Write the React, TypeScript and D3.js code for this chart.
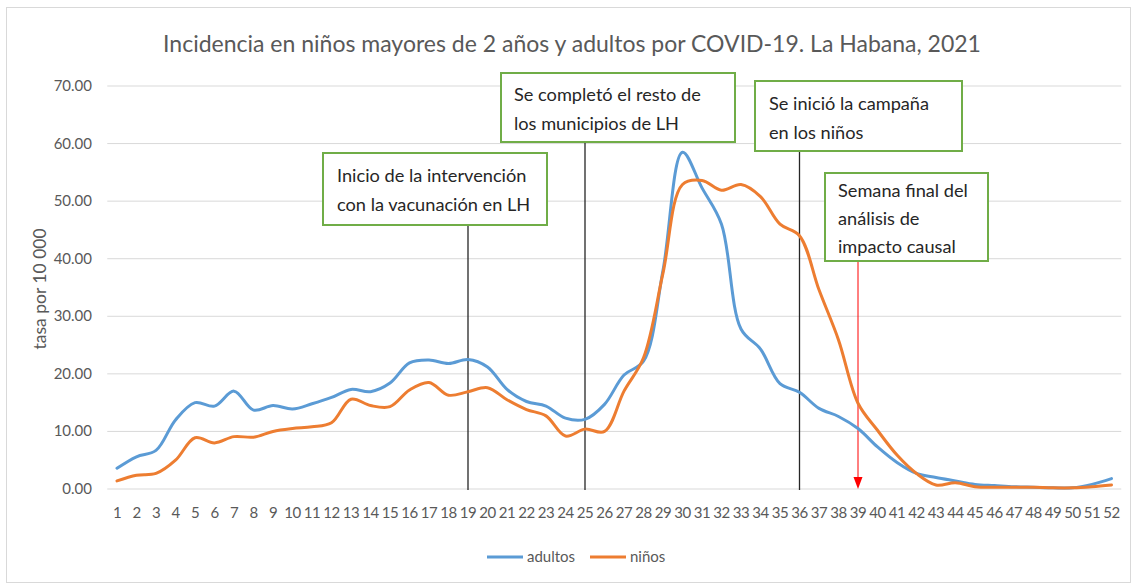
import React from "react";
import * as d3 from "d3";

const weeks = [1,2,3,4,5,6,7,8,9,10,11,12,13,14,15,16,17,18,19,20,21,22,23,24,25,26,27,28,29,30,31,32,33,34,35,36,37,38,39,40,41,42,43,44,45,46,47,48,49,50,51,52];
const adultos = [3.6,5.6,6.7,12.0,15.0,14.4,17.0,13.7,14.5,13.9,14.8,15.9,17.3,16.9,18.4,21.9,22.4,21.8,22.5,21.2,17.3,15.2,14.4,12.3,12.1,14.7,19.8,22.2,38.0,58.5,52.3,46.0,27.8,24.3,18.3,16.8,14.0,12.6,10.5,7.3,4.6,2.7,2.0,1.4,0.8,0.6,0.4,0.3,0.2,0.2,0.8,1.8];
const ninos = [1.4,2.4,2.7,5.0,8.9,8.0,9.1,9.0,10.0,10.5,10.8,11.5,15.6,14.5,14.3,17.2,18.5,16.3,16.9,17.6,15.5,13.8,12.7,9.2,10.4,10.0,17.0,22.8,37.5,52.9,53.6,51.9,52.9,50.8,46.0,44.0,34.6,25.9,14.9,10.2,5.9,2.7,0.7,1.1,0.4,0.3,0.3,0.3,0.2,0.2,0.4,0.7];
const yTicks = [0,10,20,30,40,50,60,70];
const seriesNames = ["adultos","niños"];
const seriesColors = ["#5B9BD5","#ED7D31"];
const markerWeeks = [19,25,36];
const finalWeek = 39;
const noteTexts = [
  ["Inicio de la intervención","con la vacunación en LH"],
  ["Se completó el resto de","los municipios de LH"],
  ["Se inició la campaña","en los niños"],
  ["Semana final del","análisis de","impacto causal"],
];
const title = "Incidencia en niños mayores de 2 años y adultos por COVID-19. La Habana, 2021";
const yLabel = "tasa por 10 000";

const W = 1137, H = 585;
const FONT = "Lato, 'Open Sans', sans-serif";

export default function App() {
  const x = d3.scaleBand<number>().domain(weeks).range([107.25, 1121.25]).padding(0);
  const cx = (w: number) => (x(w) as number) + x.bandwidth() / 2;
  const y = d3.scaleLinear().domain([0, 70]).range([489, 86]);
  const line = d3.line<number>()
    .x((_, i) => cx(weeks[i]))
    .y((d) => y(d))
    .curve(d3.curveCatmullRom.alpha(0.5));
  const series = [adultos, ninos];

  const boxes = [
    { x: 323, y: 153, w: 224, h: 72, tx: 337, ty: 182, lh: 29 },
    { x: 501, y: 73, w: 234, h: 69, tx: 514, ty: 101, lh: 29 },
    { x: 755, y: 81, w: 207, h: 70, tx: 769, ty: 110, lh: 29 },
    { x: 825, y: 173, w: 163, h: 88, tx: 838, ty: 197, lh: 28 },
  ];
  const fx = cx(finalWeek);
  const arrowTop = boxes[3].y + boxes[3].h;

  return (
    <svg width={W} height={H} style={{ position: "absolute", left: 0, top: 0, background: "#fff" }} fontFamily={FONT}>
      <rect x={6.5} y={7.5} width={1124} height={575} fill="#fff" stroke="#D9D9D9" strokeWidth={1} />
      <text x={572} y={52} textAnchor="middle" fontSize={23} fill="#595959">{title}</text>
      {yTicks.map((t) => (
        <g key={t}>
          <line x1={107.25} x2={1121.25} y1={y(t)} y2={y(t)} stroke="#D9D9D9" strokeWidth={1} />
          <text x={92} y={y(t) + 5} textAnchor="end" fontSize={15} fill="#595959">{t.toFixed(2)}</text>
        </g>
      ))}
      <text transform={`translate(46,289) rotate(-90)`} textAnchor="middle" fontSize={17.5} fill="#595959">{yLabel}</text>
      {weeks.map((w) => (
        <text key={w} x={cx(w)} y={518} textAnchor="middle" fontSize={15} fill="#595959" letterSpacing={-0.5}>{w}</text>
      ))}
      {markerWeeks.map((w, i) => (
        <line key={w} x1={cx(w)} x2={cx(w)} y1={boxes[i].y + boxes[i].h} y2={490} stroke="#262626" strokeWidth={1.3} />
      ))}
      <line x1={fx} x2={fx} y1={arrowTop} y2={480} stroke="#FF0000" strokeWidth={1} />
      <path d={`M${fx - 4.5},477 L${fx + 4.5},477 L${fx},489 Z`} fill="#FF0000" />
      {series.map((s, i) => (
        <path key={i} d={line(s) || ""} fill="none" stroke={seriesColors[i]} strokeWidth={3} strokeLinejoin="round" strokeLinecap="round" />
      ))}
      {boxes.map((b, i) => (
        <g key={i}>
          <rect x={b.x} y={b.y} width={b.w} height={b.h} fill="#fff" stroke="#70AD47" strokeWidth={2} />
          {noteTexts[i].map((t, j) => (
            <text key={j} x={b.tx} y={b.ty + j * b.lh} fontSize={18.2} fill="#262626">{t}</text>
          ))}
        </g>
      ))}
      {seriesNames.map((n, i) => (
        <g key={n} transform={`translate(${487 + i * 103},557)`}>
          <line x1={0} x2={36} y1={0} y2={0} stroke={seriesColors[i]} strokeWidth={3} />
          <text x={40} y={5} fontSize={15} fill="#595959">{n}</text>
        </g>
      ))}
    </svg>
  );
}
